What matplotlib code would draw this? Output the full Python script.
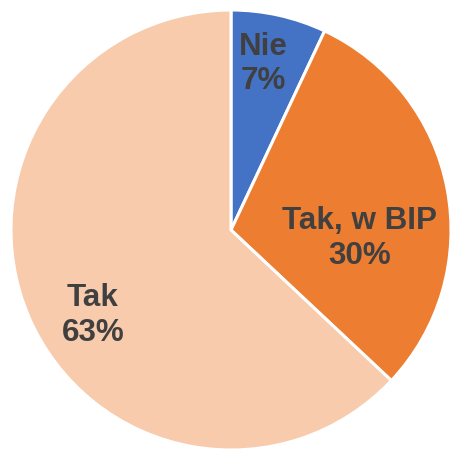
import matplotlib
matplotlib.use("Agg")
import matplotlib.pyplot as plt

categories = ["Nie", "Tak, w BIP", "Tak"]
values = [7, 30, 63]
labels = ["Nie\n7%", "Tak, w BIP\n30%", "Tak\n63%"]
colors = ["#4472C4", "#ED7D31", "#F8CBAD"]

plt.rcParams['font.family'] = ['Liberation Sans', 'DejaVu Sans']

fig = plt.figure(figsize=(4.5, 4.5), dpi=100)
ax = fig.add_axes([0, 0, 1, 1])
ax.pie(values, colors=colors, startangle=90, counterclock=False,
       radius=1.0, center=(0, 0),
       wedgeprops=dict(edgecolor="white", linewidth=2.2))
ax.set_xlim(-231 / 220, (450 - 231) / 220)
ax.set_ylim(-(450 - 230) / 220, 230 / 220)
ax.set_aspect("auto")
ax.axis("off")

label_pos = [(0.145, 0.755), (0.586, -0.04), (-0.627, -0.39)]
for (x, y), lab in zip(label_pos, labels):
    ax.text(x, y, lab, ha="center", va="center", fontsize=22.6,
            fontweight="bold", color="#404040", linespacing=1.2)

fig.savefig("out.png", dpi=100, facecolor="white")
